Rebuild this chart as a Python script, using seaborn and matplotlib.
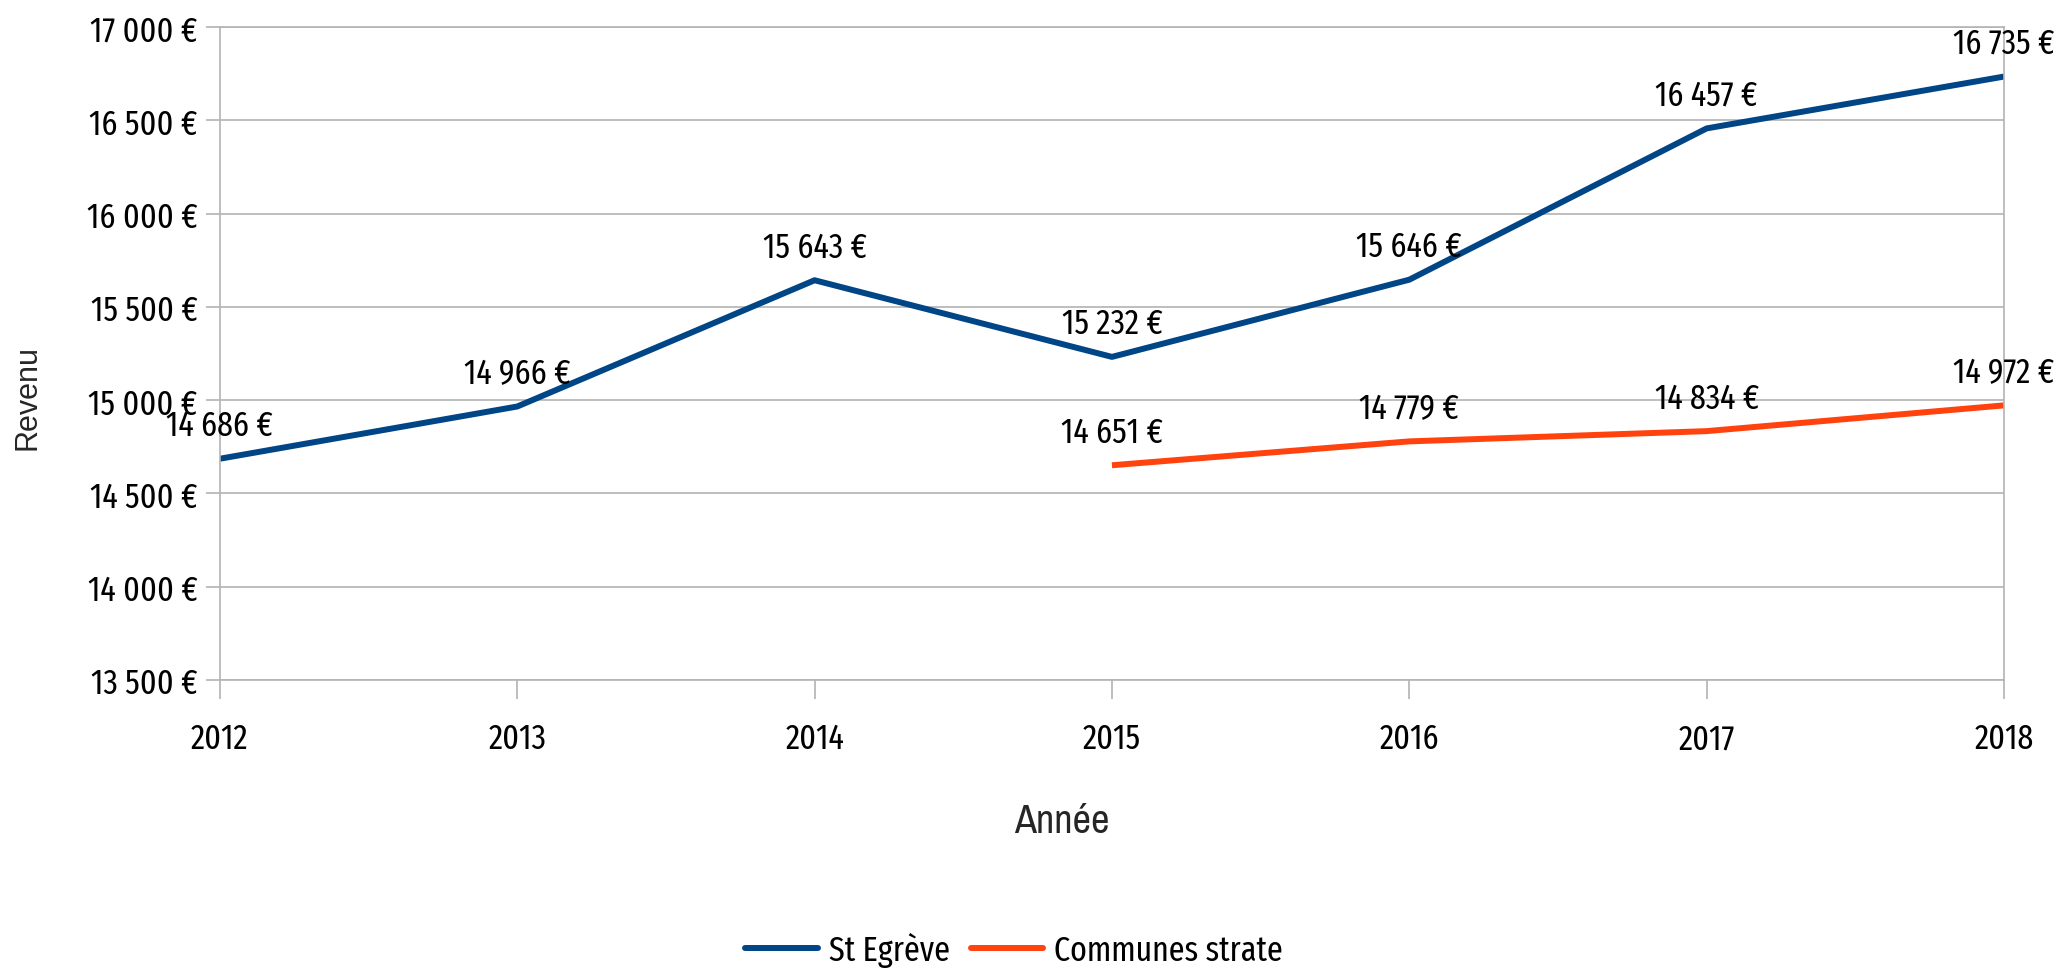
import pandas as pd
import seaborn as sns
import matplotlib.pyplot as plt
from matplotlib.ticker import FuncFormatter

years = [2012, 2013, 2014, 2015, 2016, 2017, 2018]
st_egreve = [14686, 14966, 15643, 15232, 15646, 16457, 16735]
communes_strate = [None, None, None, 14651, 14779, 14834, 14972]
series_names = ["St Egrève", "Communes strate"]
colors = ["#004586", "#ff420e"]

MAIN_FONT = ['Fira Sans Extra Condensed', 'DejaVu Sans']


def euro(v, pos=None):
    return f"{int(round(v)):,}".replace(",", " ") + " €"


def plot_revenu():
    df = pd.DataFrame({"Année": years * 2,
                       "Revenu": st_egreve + communes_strate,
                       "Série": [series_names[0]] * len(years) + [series_names[1]] * len(years)})
    df = df.dropna()

    sns.set_style("white")
    plt.rcParams['font.family'] = MAIN_FONT
    plt.rcParams['text.color'] = 'black'
    plt.rcParams['xtick.color'] = 'black'
    plt.rcParams['ytick.color'] = 'black'

    fig = plt.figure(figsize=(20.63, 9.70), dpi=100)
    ax = fig.add_axes([0.1066, 0.298, 0.8648, 0.673])

    sns.lineplot(data=df, x="Année", y="Revenu", hue="Série", palette=colors,
                 linewidth=4.3, ax=ax, legend=False, solid_capstyle="butt")

    ax.set_xlim(2012, 2018)
    ax.set_ylim(13500, 17000)
    ax.set_yticks(range(13500, 17001, 500))
    ax.set_xticks(years)
    ax.yaxis.set_major_formatter(FuncFormatter(euro))
    ax.grid(axis="y", color="#b3b3b3", linewidth=1.2)
    ax.set_axisbelow(True)
    for s in ax.spines.values():
        s.set_color("#b3b3b3")
        s.set_linewidth(1.2)
    ax.tick_params(axis="y", length=10, width=1.2, color="#b3b3b3", labelcolor="black",
                   labelsize=25, pad=6, left=True)
    ax.tick_params(axis="x", length=14, width=1.2, color="#b3b3b3", labelcolor="black",
                   labelsize=25, pad=16, bottom=True)

    # data labels above each point
    for vals in (st_egreve, communes_strate):
        for x, v in zip(years, vals):
            if v is None:
                continue
            ax.annotate(euro(v), (x, v), xytext=(0, 17), textcoords="offset points",
                        ha="center", va="baseline", fontsize=25, annotation_clip=False)

    ax.set_xlabel("Année", fontsize=29, family=['Archivo Narrow', 'DejaVu Sans'])
    ax.xaxis.set_label_coords(0.472, -0.216)
    ax.xaxis.label.set_va("center")
    ax.set_ylabel("Revenu", fontsize=22, family=['Liberation Sans', 'DejaVu Sans'])
    ax.yaxis.set_label_coords(-0.108, 0.434)
    ax.yaxis.label.set_va("center")

    handles = [plt.Line2D([], [], color=c, linewidth=4.3) for c in colors]
    fig.legend(handles, series_names, loc="center", bbox_to_anchor=(0.4915, 0.020),
               ncol=2, frameon=False, fontsize=25, handlelength=2.1,
               handletextpad=0.3, columnspacing=0.6)

    fig.savefig("out.png", dpi=100)


if __name__ == "__main__":
    plot_revenu()
